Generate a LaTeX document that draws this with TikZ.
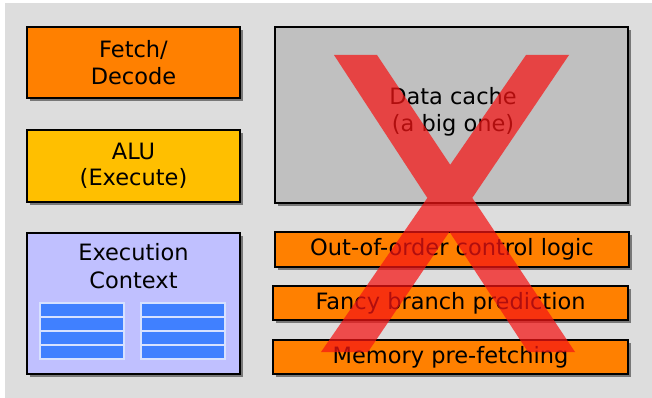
\documentclass[tikz,border=0pt]{standalone}
\usepackage{fontspec}
\setmainfont{DejaVu Sans}
\usetikzlibrary{shadows}
\definecolor{bgc}{RGB}{221,221,221}
\definecolor{orangec}{RGB}{255,128,0}
\definecolor{aluc}{RGB}{255,191,0}
\definecolor{ctxc}{RGB}{192,192,255}
\definecolor{regc}{RGB}{64,128,255}
\definecolor{regline}{RGB}{215,225,255}
\definecolor{cachec}{RGB}{192,192,192}
\definecolor{shadowc}{RGB}{120,120,120}
\definecolor{xred}{RGB}{245,20,20}
\tikzset{
  unit/.style={draw=black, line width=1.3pt, inner sep=0pt, align=center,
    font=\fontsize{22.5}{26.5}\selectfont,
    drop shadow={shadow xshift=3pt, shadow yshift=-3pt, fill=shadowc, opacity=1}},
  lbl/.style={align=center, inner sep=0pt, font=\fontsize{22.5}{27.5}\selectfont},
  regrow/.style={fill=regc, draw=regline, line width=1.1pt, minimum width=84pt, minimum height=14pt, inner sep=0pt},
}
\begin{document}
\begin{tikzpicture}[x=1pt, y=-1pt]
\useasboundingbox (0,0) rectangle (652,398);
\fill[bgc] (5,3) rectangle (652,398);
% left column
\node[unit, fill=orangec, minimum width=213pt, minimum height=71pt] (fetch) at (133.5,62.5) {Fetch/\\Decode};
\node[unit, fill=aluc, minimum width=213pt, minimum height=72pt] (alu) at (133.5,166) {ALU\\(Execute)};
\node[unit, fill=ctxc, minimum width=213pt, minimum height=141pt] (ctx) at (133.5,303.5) {};
\node[lbl, anchor=base] (ctxlbl) at (133.5,288) {Execution\\Context};
% registers
\foreach \i in {0,1,2,3}{
  \node[regrow] (rl\i) at (82,310+14*\i) {};
  \node[regrow] (rr\i) at (183,310+14*\i) {};
}
% right column
\node[unit, fill=cachec, minimum width=353pt, minimum height=176pt] (cache) at (451.5,115) {};
\node[lbl, anchor=base] (cachelbl) at (453,132) {Data cache\\(a big one)};
\node[unit, fill=orangec, minimum width=354pt, minimum height=35pt] (ooo) at (452,249.5) {Out-of-order control logic};
\node[unit, fill=orangec, minimum width=355pt, minimum height=34pt] (branch) at (450.5,303) {Fancy branch prediction};
\node[unit, fill=orangec, minimum width=355pt, minimum height=34pt] (prefetch) at (450.5,357) {Memory pre-fetching};
% big X
\fill[xred, fill opacity=0.72] (334,55) -- (377,55) -- (575,352) -- (528,352) -- cycle
  (526,55) -- (569,55) -- (368,352) -- (321,352) -- cycle;
\end{tikzpicture}
\end{document}
